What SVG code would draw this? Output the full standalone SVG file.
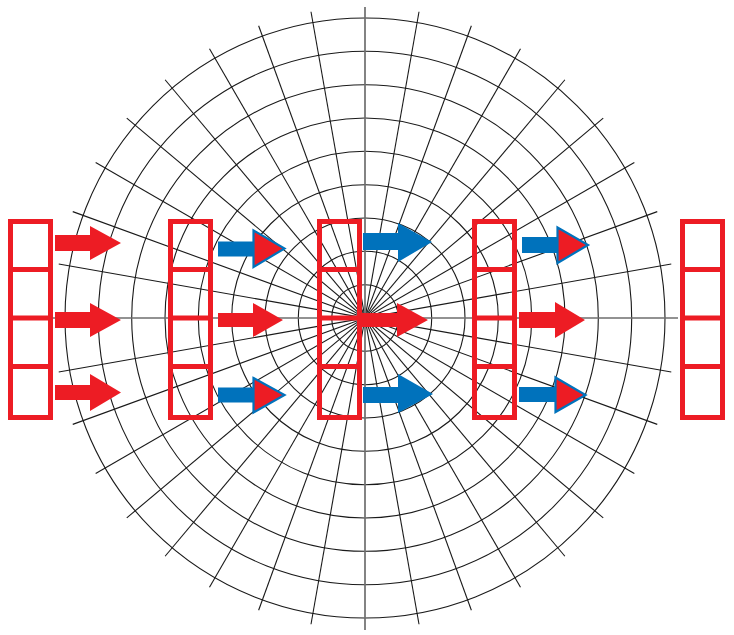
<svg xmlns="http://www.w3.org/2000/svg" width="734" height="635" viewBox="0 0 734 635">
<style>
.grid{fill:none;stroke:#1a1a1a;stroke-width:1.1}
.axis{stroke:#6e6e6e;stroke-width:1.7}
.box{fill:none;stroke:#ED1C24;stroke-width:5}
.div{stroke:#ED1C24;stroke-width:5}
.red{fill:#ED1C24}
.blue{fill:#0072BC}
.bhead{fill:#ED1C24;stroke:#0072BC;stroke-width:2.2;stroke-linejoin:miter}
</style>
<rect width="734" height="635" fill="#ffffff"/>
<g id="polar-grid" transform="translate(365,318)">
  <g class="grid">
    <circle r="33.3"/><circle r="66.7"/><circle r="100"/><circle r="133.3"/><circle r="166.7"/>
    <circle r="200"/><circle r="233.3"/><circle r="266.7"/><circle r="300"/>
    <line x1="-311" y1="0" x2="311" y2="0" transform="rotate(10)"/>
    <line x1="-311" y1="0" x2="311" y2="0" transform="rotate(20)"/>
    <line x1="-311" y1="0" x2="311" y2="0" transform="rotate(30)"/>
    <line x1="-311" y1="0" x2="311" y2="0" transform="rotate(40)"/>
    <line x1="-311" y1="0" x2="311" y2="0" transform="rotate(50)"/>
    <line x1="-311" y1="0" x2="311" y2="0" transform="rotate(60)"/>
    <line x1="-311" y1="0" x2="311" y2="0" transform="rotate(70)"/>
    <line x1="-311" y1="0" x2="311" y2="0" transform="rotate(80)"/>
    <line x1="-311" y1="0" x2="311" y2="0" transform="rotate(100)"/>
    <line x1="-311" y1="0" x2="311" y2="0" transform="rotate(110)"/>
    <line x1="-311" y1="0" x2="311" y2="0" transform="rotate(120)"/>
    <line x1="-311" y1="0" x2="311" y2="0" transform="rotate(130)"/>
    <line x1="-311" y1="0" x2="311" y2="0" transform="rotate(140)"/>
    <line x1="-311" y1="0" x2="311" y2="0" transform="rotate(150)"/>
    <line x1="-311" y1="0" x2="311" y2="0" transform="rotate(160)"/>
    <line x1="-311" y1="0" x2="311" y2="0" transform="rotate(170)"/>
  </g>
  <line class="axis" x1="-312" y1="0" x2="313" y2="0"/>
  <line class="axis" x1="0" y1="-311" x2="0" y2="312"/>
</g>
<g id="column-1">
  <rect class="box" x="10.5" y="221.5" width="40" height="196"/>
  <line class="div" x1="10.5" y1="269.5" x2="50.5" y2="269.5"/>
  <line class="div" x1="10.5" y1="318" x2="50.5" y2="318"/>
  <line class="div" x1="10.5" y1="366.5" x2="50.5" y2="366.5"/>
</g>
<g id="column-2">
  <rect class="box" x="170.5" y="221.5" width="40" height="196"/>
  <line class="div" x1="170.5" y1="269.5" x2="210.5" y2="269.5"/>
  <line class="div" x1="170.5" y1="318" x2="210.5" y2="318"/>
  <line class="div" x1="170.5" y1="366.5" x2="210.5" y2="366.5"/>
</g>
<g id="column-3">
  <rect class="box" x="319.5" y="221.5" width="40" height="196"/>
  <line class="div" x1="319.5" y1="269.5" x2="359.5" y2="269.5"/>
  <line class="div" x1="319.5" y1="318" x2="359.5" y2="318"/>
  <line class="div" x1="319.5" y1="366.5" x2="359.5" y2="366.5"/>
</g>
<g id="column-4">
  <rect class="box" x="474.5" y="221.5" width="40" height="196"/>
  <line class="div" x1="474.5" y1="269.5" x2="514.5" y2="269.5"/>
  <line class="div" x1="474.5" y1="318" x2="514.5" y2="318"/>
  <line class="div" x1="474.5" y1="366.5" x2="514.5" y2="366.5"/>
</g>
<g id="column-5">
  <rect class="box" x="682.5" y="221.5" width="40" height="196"/>
  <line class="div" x1="682.5" y1="269.5" x2="722.5" y2="269.5"/>
  <line class="div" x1="682.5" y1="318" x2="722.5" y2="318"/>
  <line class="div" x1="682.5" y1="366.5" x2="722.5" y2="366.5"/>
</g>
<g id="connectors">
  <!-- column 1 to 2 -->
  <polygon class="red" points="55,235 90,235 90,226 121,243 90,260 90,251 55,251"/>
  <polygon class="red" points="55,312 90,312 90,303 121,320 90,337 90,328 55,328"/>
  <polygon class="red" points="55,385 90,385 90,374 121,392.5 90,411 90,400 55,400"/>
  <!-- column 2 to 3 -->
  <rect class="blue" x="218" y="241.5" width="37" height="15"/>
  <polygon class="bhead" points="253.5,230.5 284.5,248.5 253.5,267"/>
  <polygon class="red" points="218,313 253,313 253,303 283,320 253,337 253,327 218,327"/>
  <rect class="blue" x="218" y="387.5" width="37" height="15"/>
  <polygon class="bhead" points="253.5,378 284.5,395 253.5,412.5"/>
  <!-- column 3 to 4 -->
  <polygon class="blue" points="363,233 398,233 398,223 432,242 398,262 398,250 363,250"/>
  <polygon class="red" points="358,313 397,313 397,303 428,320 397,337 397,327 358,327"/>
  <polygon class="blue" points="363,387 398,387 398,374 433,394 398,413 398,403 363,403"/>
  <!-- column 4 to 5 -->
  <rect class="blue" x="522" y="237" width="37" height="16"/>
  <polygon class="bhead" points="557.5,227.5 588,245 557.5,263"/>
  <polygon class="red" points="519,312 555,312 555,302 585,320 555,338 555,328 519,328"/>
  <rect class="blue" x="519" y="387" width="37" height="15"/>
  <polygon class="bhead" points="555.5,377.5 585.5,395 555.5,412"/>
</g>
</svg>
